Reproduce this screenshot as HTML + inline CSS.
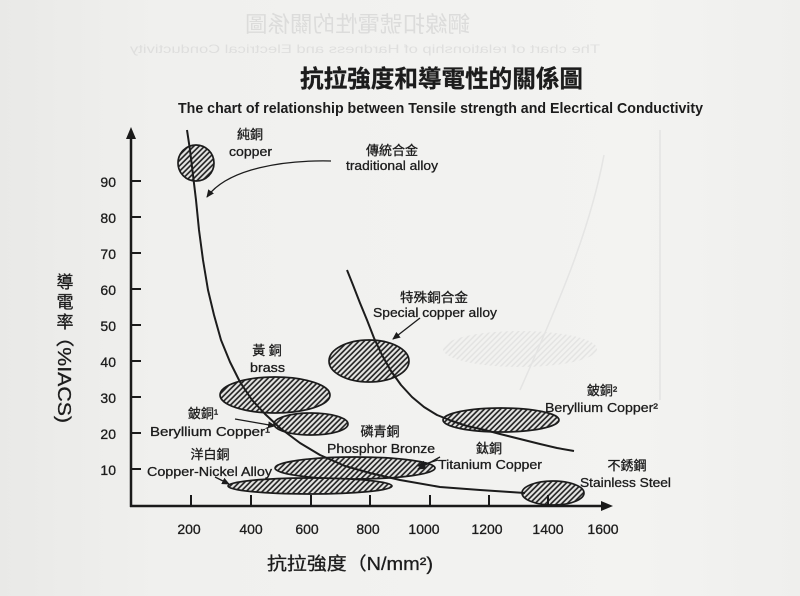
<!DOCTYPE html>
<html><head><meta charset="utf-8"><style>
html,body{margin:0;padding:0;background:#f1f1ef;}
svg{display:block;}
text{font-family:"Liberation Sans","Noto Sans CJK TC",sans-serif;fill:#1c1c1c;}
.cj{font-family:"Liberation Sans","Noto Sans CJK TC","Noto Sans CJK SC",sans-serif;}
.b{stroke:#1c1c1c;stroke-width:0.3;}
</style></head><body>
<svg width="800" height="596" viewBox="0 0 800 596" xmlns="http://www.w3.org/2000/svg">
<defs>
<pattern id="h" width="3.8" height="3.8" patternUnits="userSpaceOnUse" patternTransform="rotate(45)">
<rect width="3.8" height="3.8" fill="#e6e6e4"/>
<line x1="1" y1="0" x2="1" y2="3.8" stroke="#1c1c1c" stroke-width="1.6"/>
</pattern>
<pattern id="hg" width="4" height="4" patternUnits="userSpaceOnUse" patternTransform="rotate(45)">
<line x1="1" y1="0" x2="1" y2="4" stroke="#d2d2d2" stroke-width="1.4"/>
</pattern>
<marker id="ar" markerWidth="8" markerHeight="8" refX="7" refY="4" orient="auto" markerUnits="userSpaceOnUse">
<path d="M0,0.5 L8,4 L0,7.5 Z" fill="#1c1c1c"/>
</marker>
<linearGradient id="bg" x1="0" y1="0" x2="1" y2="0">
<stop offset="0" stop-color="#e9e9e7"/>
<stop offset="0.2" stop-color="#f0f0ee"/>
<stop offset="0.8" stop-color="#f3f3f1"/>
<stop offset="1" stop-color="#efefed"/>
</linearGradient>
</defs>
<rect width="800" height="596" fill="url(#bg)"/>

<!-- faint bleed-through ghost -->
<g opacity="0.5">
<text class="cj" transform="translate(470,32) scale(-1,1)" font-size="22" textLength="225" lengthAdjust="spacingAndGlyphs" style="fill:#c6c6c6">鋼線扣號電性的關係圖</text>
<text transform="translate(600,53) scale(-1,1)" font-size="12" textLength="470" lengthAdjust="spacingAndGlyphs" style="fill:#cdcdcd">The chart of relationship of Hardness and Electrical Conductivity</text>
<line x1="660" y1="130" x2="660" y2="400" stroke="#d4d4d4" stroke-width="1.5"/>
<ellipse cx="520" cy="349" rx="77" ry="18" fill="url(#hg)"/>
<path d="M604,155 C590,230 560,300 520,390" fill="none" stroke="#d6d6d6" stroke-width="1.5"/>
</g>

<!-- titles -->
<text class="cj b" x="300" y="87" font-size="24" textLength="283" lengthAdjust="spacingAndGlyphs" style="font-weight:bold">抗拉強度和導電性的關係圖</text>
<text x="178" y="113" font-size="15" font-weight="bold" textLength="525" lengthAdjust="spacingAndGlyphs">The chart of relationship between Tensile strength and Elecrtical Conductivity</text>

<!-- ellipses -->
<g stroke="#1c1c1c" stroke-width="1.7" fill="url(#h)">
<ellipse cx="196" cy="163" rx="18" ry="18"/>
<ellipse cx="275" cy="395" rx="55" ry="18"/>
<ellipse cx="311" cy="424" rx="37" ry="11"/>
<ellipse cx="355" cy="468" rx="80" ry="11"/>
<ellipse cx="310" cy="486" rx="82" ry="8"/>
<ellipse cx="369" cy="361" rx="40" ry="21"/>
<ellipse cx="501" cy="420" rx="58" ry="12"/>
<ellipse cx="553" cy="493" rx="31" ry="12"/>
</g>

<!-- curves -->
<polyline fill="none" stroke="#1c1c1c" stroke-width="2" stroke-linejoin="round" points="187,130 190,150 193,175 196,200 199,230 203,260 208,290 214,315 221,340 230,362 240,382 252,400 265,414 280,428 300,443 320,455 345,466 370,473 400,480 440,487 480,490 525,493"/>
<polyline fill="none" stroke="#1c1c1c" stroke-width="2" stroke-linejoin="round" points="347,270 353,285 360,303 367,320 374,338 382,355 391,371 401,385 412,397 424,407 437,415 452,421 467,426 485,430 500,434 520,439 540,444 557,448 574,451"/>

<!-- axes -->
<g stroke="#1a1a1a" stroke-width="2.5">
<line x1="131" y1="507" x2="131" y2="136"/>
<line x1="130" y1="506" x2="604" y2="506"/>
<g stroke-width="2">
<line x1="131" y1="181" x2="141" y2="181"/>
<line x1="131" y1="217" x2="141" y2="217"/>
<line x1="131" y1="253" x2="141" y2="253"/>
<line x1="131" y1="289" x2="141" y2="289"/>
<line x1="131" y1="325" x2="141" y2="325"/>
<line x1="131" y1="361" x2="141" y2="361"/>
<line x1="131" y1="397" x2="141" y2="397"/>
<line x1="131" y1="433" x2="141" y2="433"/>
<line x1="131" y1="469" x2="141" y2="469"/>
<line x1="191" y1="495" x2="191" y2="506"/>
<line x1="251" y1="495" x2="251" y2="506"/>
<line x1="311" y1="495" x2="311" y2="506"/>
<line x1="370" y1="495" x2="370" y2="506"/>
<line x1="430" y1="495" x2="430" y2="506"/>
<line x1="489" y1="495" x2="489" y2="506"/>
<line x1="548" y1="495" x2="548" y2="506"/>
</g>
</g>
<path d="M131,127 L126,139 L136,139 Z" fill="#1a1a1a"/>
<path d="M613,506 L601,501 L601,511 Z" fill="#1a1a1a"/>

<!-- y tick labels -->
<g font-size="14" text-anchor="end" class="b">
<text class="b" x="116" y="187">90</text>
<text class="b" x="116" y="223">80</text>
<text class="b" x="116" y="259">70</text>
<text class="b" x="116" y="295">60</text>
<text class="b" x="116" y="331">50</text>
<text class="b" x="116" y="367">40</text>
<text class="b" x="116" y="403">30</text>
<text class="b" x="116" y="439">20</text>
<text class="b" x="116" y="475">10</text>
</g>
<!-- x tick labels -->
<g font-size="14" text-anchor="middle">
<text class="b" x="189" y="534">200</text>
<text class="b" x="251" y="534">400</text>
<text class="b" x="307" y="534">600</text>
<text class="b" x="368" y="534">800</text>
<text class="b" x="424" y="534">1000</text>
<text class="b" x="487" y="534">1200</text>
<text class="b" x="548" y="534">1400</text>
<text class="b" x="603" y="534">1600</text>
</g>

<!-- axis titles -->
<text class="cj b" x="267" y="570" font-size="18" textLength="166" lengthAdjust="spacingAndGlyphs">抗拉強度（N/mm²)</text>
<g font-size="17" text-anchor="middle">
<text class="cj b" x="65" y="288">導</text>
<text class="cj b" x="65" y="308">電</text>
<text class="cj b" x="65" y="328">率</text>
</g>
<text class="cj b" transform="translate(58,326) rotate(90)" font-size="18" textLength="97" lengthAdjust="spacingAndGlyphs">（%IACS)</text>

<!-- arrows -->
<g fill="none" stroke="#1c1c1c" stroke-width="1.3">
<path d="M331,161 C285,160 228,168 207,197" marker-end="url(#ar)"/>
<path d="M420,318 L393,339" marker-end="url(#ar)"/>
<path d="M235,419 L275,426" marker-end="url(#ar)"/>
<path d="M215,477 L229,484" marker-end="url(#ar)"/>
<path d="M440,457 L418,469" marker-end="url(#ar)"/>
<path d="M438,460 L418,466" marker-end="url(#ar)"/>
</g>

<!-- labels -->
<g font-size="13">
<text class="cj b" x="250" y="139" text-anchor="middle">純銅</text>
<text class="b" x="229" y="156" textLength="43" lengthAdjust="spacingAndGlyphs">copper</text>

<text class="cj b" x="392" y="155" text-anchor="middle">傳統合金</text>
<text class="b" x="346" y="170" textLength="92" lengthAdjust="spacingAndGlyphs">traditional alloy</text>

<text class="cj b" x="400" y="302" textLength="68" lengthAdjust="spacingAndGlyphs">特殊銅合金</text>
<text class="b" x="373" y="317" textLength="124" lengthAdjust="spacingAndGlyphs">Special copper alloy</text>

<text class="cj b" x="267" y="355" text-anchor="middle">黃 銅</text>
<text class="b" x="250" y="372" textLength="35" lengthAdjust="spacingAndGlyphs">brass</text>

<text class="cj b" x="203" y="418" text-anchor="middle">鈹銅¹</text>
<text class="b" x="150" y="436" textLength="120" lengthAdjust="spacingAndGlyphs">Beryllium Copper¹</text>

<text class="cj b" x="380" y="436" text-anchor="middle">磷青銅</text>
<text class="b" x="327" y="453" textLength="108" lengthAdjust="spacingAndGlyphs">Phosphor Bronze</text>

<text class="cj b" x="210" y="459" text-anchor="middle">洋白銅</text>
<text class="b" x="147" y="476" textLength="125" lengthAdjust="spacingAndGlyphs">Copper-Nickel Alloy</text>

<text class="cj b" x="489" y="453" text-anchor="middle">鈦銅</text>
<text class="b" x="438" y="469" textLength="104" lengthAdjust="spacingAndGlyphs">Titanium Copper</text>

<text class="cj b" x="602" y="395" text-anchor="middle">鈹銅²</text>
<text class="b" x="545" y="412" textLength="113" lengthAdjust="spacingAndGlyphs">Beryllium Copper²</text>

<text class="cj b" x="627" y="470" text-anchor="middle">不銹鋼</text>
<text class="b" x="580" y="487" textLength="91" lengthAdjust="spacingAndGlyphs">Stainless Steel</text>
</g>
</svg>
</body></html>
